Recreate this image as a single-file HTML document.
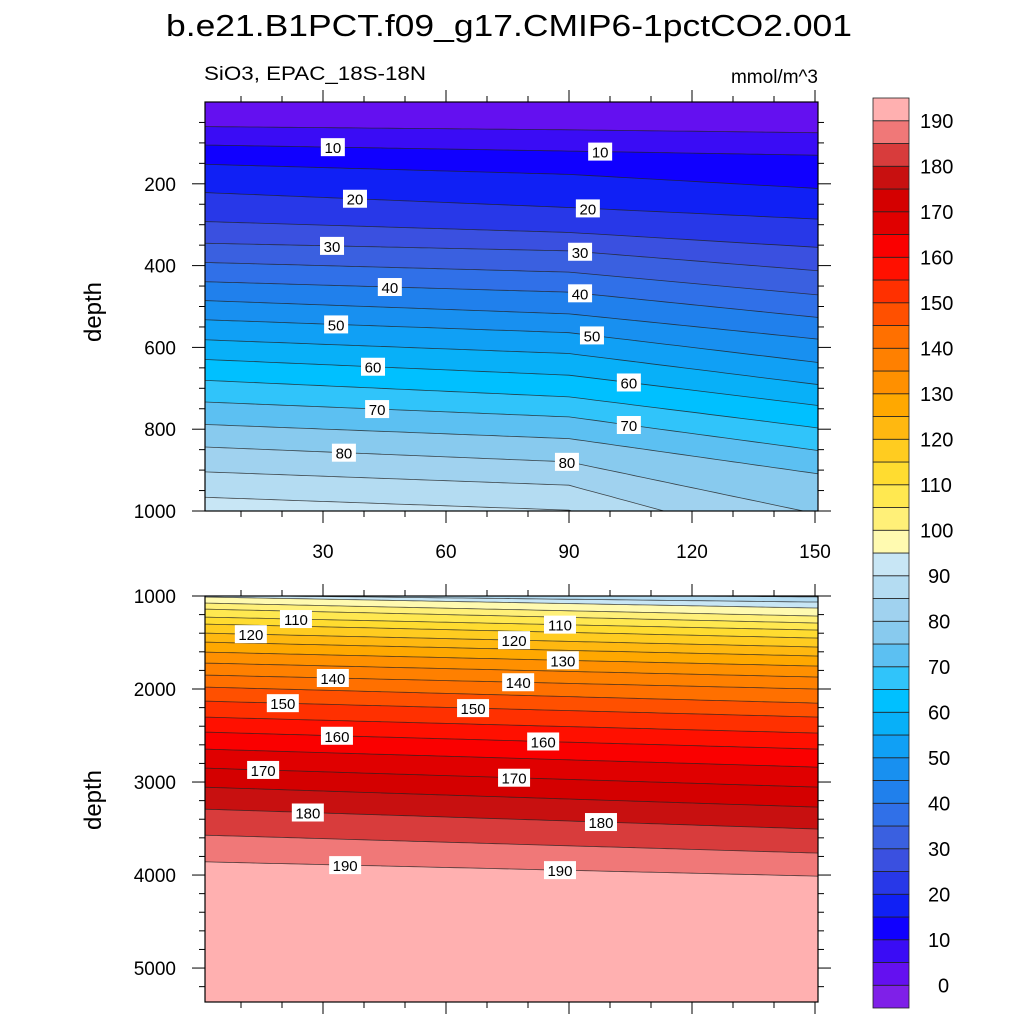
<!DOCTYPE html>
<html><head><meta charset="utf-8">
<style>
html,body{margin:0;padding:0;background:#fff;}
svg{display:block;font-family:"Liberation Sans",sans-serif;}
</style></head>
<body>
<svg id="chart" width="1024" height="1024" viewBox="0 0 1024 1024">
<text x="166" y="36" font-size="31" textLength="686" lengthAdjust="spacingAndGlyphs">b.e21.B1PCT.f09_g17.CMIP6-1pctCO2.001</text>
<text x="204" y="80" font-size="19" textLength="222" lengthAdjust="spacingAndGlyphs">SiO3, EPAC_18S-18N</text>
<text x="818" y="83" font-size="19" text-anchor="end">mmol/m^3</text>
<text transform="translate(101,312) rotate(-90)" font-size="24" text-anchor="middle">depth</text>
<text transform="translate(101,800) rotate(-90)" font-size="24" text-anchor="middle">depth</text>
<g id="top"></g>
<g id="bot"></g>
<g id="cbar"></g>
</svg>
<script>
// colour bar: band colours from below 0 up to above 190
const bandColors = ["#7f20e8","#6410f0","#3a0cf5","#1000ff","#1020f5","#2838e8","#3a50e0","#3a60e0","#3070e8","#2080ec","#1890f0","#10a0f5","#08b0f8","#00c0ff","#30c4fa","#5cc0f2","#88caee","#a0d2ef","#b4dcf2","#c8e6f5","#fffab0","#fff078","#ffe850","#ffdc30","#ffcc20","#ffb810","#ffa800","#ff9000","#ff8000","#ff7000","#ff5000","#ff3000","#ff1000","#fa0000","#e00000","#d40000","#c81010","#d83c3c","#f07878","#ffb0b0"];
const cbarLabels = [0,10,20,30,40,50,60,70,80,90,100,110,120,130,140,150,160,170,180,190];

// top panel (0-1000 m): contour levels and their depths at x = 0, 90, 150
const topLevels = [5,10,15,20,25,30,35,40,45,50,55,60,65,70,75,80,85,90];
const topX = [0,90,150];
const topDepthLeft  = [60,105,152,221,292,345,392,439,485,532,581,629,680,733,788,843,904,966];
const topDepthMid   = [68,120,177,258,319,364,416,465,518,564,615,668,721,770,823,880,937,998];
const topDepthRight = [75,130,211,286,355,412,471,526,579,636,690,741,796,851,908,1006,1100,1180];
const topLabelLevels = [10,10,20,20,30,30,40,40,50,50,60,60,70,70,80,80];
const topLabelX = [32.4,97.6,37.8,94.6,32.2,92.7,46.3,92.7,33.2,95.6,42.2,104.6,43.2,104.6,35.1,89.5];

// bottom panel (1000-5365 m): contour levels and depths at x = 0, 150
const botLevels = [85,90,95,100,105,110,115,120,125,130,135,140,145,150,155,160,165,170,175,180,185,190];
const botX = [0,150];
const botDepthLeft  = [960,990,1010,1075,1140,1226,1301,1398,1495,1602,1720,1849,1978,2129,2301,2462,2645,2849,3054,3290,3570,3857];
const botDepthRight = [1010,1065,1129,1215,1290,1366,1452,1548,1645,1753,1871,2000,2151,2301,2473,2645,2839,3054,3269,3505,3763,4011];
const botLabelLevels = [110,110,120,120,130,140,140,150,150,160,160,170,170,180,180,190,190];
const botLabelX = [23.4,87.8,12.4,76.6,88.5,32.4,77.6,20.2,66.6,33.4,83.7,15.4,76.6,26.3,97.8,35.4,87.8];

const NS="http://www.w3.org/2000/svg";
function mk(tag,attrs,parent){const e=document.createElementNS(NS,tag);for(const k in attrs)e.setAttribute(k,attrs[k]);parent.appendChild(e);return e;}
function bandColor(level){return bandColors[Math.round(level/5)+1];}

function panel(g,cfg){
  const {x0,x1,y0,y1,d0,d1,xmin,xmax,levels,ctrlX,depths,labLev,labX,name}=cfg;
  const sx=v=>200+v*4.1;
  const sy=d=>y0+(d-d0)/(d1-d0)*(y1-y0);
  const clipId=name+'-clip';
  const defs=mk('defs',{},g);
  const cp=mk('clipPath',{id:clipId},defs);
  mk('rect',{x:x0,y:y0,width:x1-x0,height:y1-y0},cp);
  const area=mk('g',{'clip-path':'url(#'+clipId+')'},g);
  const bg=mk('rect',{x:x0,y:y0,width:x1-x0,height:y1-y0,fill:bandColors[Math.round(levels[0]/5)]},area);
  
  
  function depthAt(i,x){
    for(let k=0;k<ctrlX.length-1;k++){
      if(x<=ctrlX[k+1]||k===ctrlX.length-2){
        const t=(x-ctrlX[k])/(ctrlX[k+1]-ctrlX[k]);
        return depths[k][i]+(depths[k+1][i]-depths[k][i])*t;
      }
    }
  }
  function linePts(i){
    const pts=[];
    const xs=[-2];
    for(let x=0;x<=154;x+=2)xs.push(x);
    xs.forEach(x=>pts.push([sx(x),sy(depthAt(i,x))]));
    return pts;
  }
  levels.forEach((lv,i)=>{
    const pts=linePts(i);
    let d='M'+pts.map(p=>p[0].toFixed(1)+','+p[1].toFixed(1)).join('L');
    const poly=d+'L'+pts[pts.length-1][0]+','+(y1+50)+'L'+pts[0][0]+','+(y1+50)+'Z';
    const f=mk('path',{d:poly,fill:bandColor(lv)},area);
    
    
  });
  levels.forEach((lv,i)=>{
    const pts=linePts(i);
    const d='M'+pts.map(p=>p[0].toFixed(1)+','+p[1].toFixed(1)).join('L');
    const l=mk('path',{d:d,fill:'none',stroke:'#222',"stroke-width":0.8,"stroke-opacity":0.8},area);
    
    
  });
  labLev.forEach((lv,j)=>{
    const i=levels.indexOf(lv);
    const x=sx(labX[j]), y=sy(depthAt(i,labX[j]));
    const w=lv>=100?32:24;
    const r=mk('rect',{x:x-w/2,y:y-9,width:w,height:18,fill:'#fff'},area);
    
    
    const t=mk('text',{x:x,y:y+6,'font-size':15,'text-anchor':'middle'},area);
    t.textContent=lv;
    
    
  });
  const frame=mk('rect',{x:x0,y:y0,width:x1-x0,height:y1-y0,fill:'none',stroke:'#000','stroke-width':1.2},g);
  
  
  for(let v=10;v<=150;v+=10){
    const X=sx(v), maj=v%30===0, L=maj?12:6;
    mk('line',{x1:X,y1:y0,x2:X,y2:y0-L,stroke:'#000','stroke-width':1},g);
    mk('line',{x1:X,y1:y1,x2:X,y2:y1+L,stroke:'#000','stroke-width':1},g);
    if(maj&&cfg.xlabels){
      const t=mk('text',{x:X,y:y1+47,'font-size':19,'text-anchor':'middle'},g);
      t.textContent=v;
      
      
    }
  }
  for(let v=cfg.ytStart;v<=d1+0.1;v+=cfg.ytMinor){
    const Y=sy(v), maj=Math.abs(v%cfg.ytMajor)<0.01, L=maj?13:6;
    if(Y<y0-0.5)continue;
    mk('line',{x1:x0,y1:Y,x2:x0-L,y2:Y,stroke:'#000','stroke-width':1},g);
    mk('line',{x1:x1,y1:Y,x2:x1+L,y2:Y,stroke:'#000','stroke-width':1},g);
    if(maj){
      const t=mk('text',{x:176,y:Y+7,'font-size':19,'text-anchor':'end'},g);
      t.textContent=v;
      
      
    }
  }
}

panel(document.getElementById('top'),{name:'top-panel',x0:205,x1:818,y0:102,y1:511,d0:0,d1:1000,xmin:1.2,xmax:150.7,
  levels:topLevels,ctrlX:topX,depths:[topDepthLeft,topDepthMid,topDepthRight],labLev:topLabelLevels,labX:topLabelX,
  xlabels:true,ytStart:50,ytMinor:50,ytMajor:200});
panel(document.getElementById('bot'),{name:'bottom-panel',x0:205,x1:818,y0:596,y1:1002,d0:1000,d1:5365,xmin:1.2,xmax:150.7,
  levels:botLevels,ctrlX:botX,depths:[botDepthLeft,botDepthRight],labLev:botLabelLevels,labX:botLabelX,
  xlabels:false,ytStart:1000,ytMinor:200,ytMajor:1000});

(function(){
  const g=document.getElementById('cbar');
  const top=98,bot=1008,x=873,w=36,n=bandColors.length,h=(bot-top)/n;
  bandColors.forEach((c,i)=>{
    const r=mk('rect',{x:x,y:bot-(i+1)*h,width:w,height:h,fill:c,stroke:'#222','stroke-width':0.8},g);
    
    
  });
  cbarLabels.forEach(v=>{
    const Y=bot-(v/5+1)*h;
    const t=mk('text',{x:v<100?(v===0?938:928):920,y:Y+7,'font-size':20,'text-anchor':'start'},g);
    t.textContent=v;
    
    
  });
})();
</script>
</body></html>
